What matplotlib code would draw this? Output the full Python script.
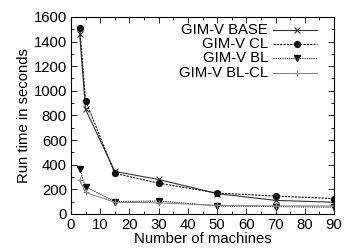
import numpy as np
import matplotlib
matplotlib.use('Agg')
import matplotlib.pyplot as plt
from matplotlib.ticker import MultipleLocator

plt.rcParams['font.family'] = ['Liberation Sans', 'DejaVu Sans']

# Data
machines = [3, 5, 15, 30, 50, 70, 90]
base = [1460, 850, 345, 280, 165, 110, 95]
cl = [1510, 920, 330, 250, 170, 145, 125]
bl = [365, 220, 100, 105, 65, 60, 55]
bl_cl = [275, 175, 95, 90, 70, 65, 65]

series = [
    ('GIM-V BASE', base, dict(color='#333333', ls='-', marker='x', ms=5, mew=0.8)),
    ('GIM-V CL', cl, dict(color='#111111', ls=(0, (2, 1)), marker='o', ms=4.2)),
    ('GIM-V BL', bl, dict(color='#111111', ls=(0, (1, 1)), marker='v', ms=4.2)),
    ('GIM-V BL-CL', bl_cl, dict(color='#888888', ls='-', marker='+', ms=5, mew=0.8)),
]

fs = 10.7

fig = plt.figure(figsize=(3.6, 2.52), dpi=100)
ax = fig.add_axes([0.197, 0.151, 0.731, 0.782])

for name, vals, st in series:
    ax.plot(machines, vals, lw=0.8, **st)

ax.set_xlim(0, 90)
ax.set_ylim(0, 1600)
ax.xaxis.set_major_locator(MultipleLocator(10))
ax.xaxis.set_minor_locator(MultipleLocator(5))
ax.yaxis.set_major_locator(MultipleLocator(200))
ax.yaxis.set_minor_locator(MultipleLocator(100))
ax.tick_params(which='both', direction='in', top=True, right=True, labelsize=fs, pad=3)
ax.tick_params(which='major', length=4, width=0.6)
ax.tick_params(which='minor', length=2, width=0.6)
for sp in ax.spines.values():
    sp.set_linewidth(0.8)

ax.set_xlabel('Number of machines', fontsize=fs, labelpad=0)
ax.set_ylabel('Run time in seconds', fontsize=fs, labelpad=2)

# gnuplot-style key: right-aligned text, sample to the right
rows = [0.935, 0.862, 0.789, 0.716]
for (name, vals, st), yy in zip(series, rows):
    ax.text(0.749, yy, name, transform=ax.transAxes, ha='right', va='center', fontsize=fs)
    ax.plot([0.768, 0.935], [yy, yy], transform=ax.transAxes, lw=0.8,
            clip_on=False, markevery=[], **st)
    ax.plot([0.86], [yy], transform=ax.transAxes, clip_on=False, lw=0,
            **{k: v for k, v in st.items() if k != 'ls'})

fig.savefig('out.png', dpi=100, facecolor='white')
